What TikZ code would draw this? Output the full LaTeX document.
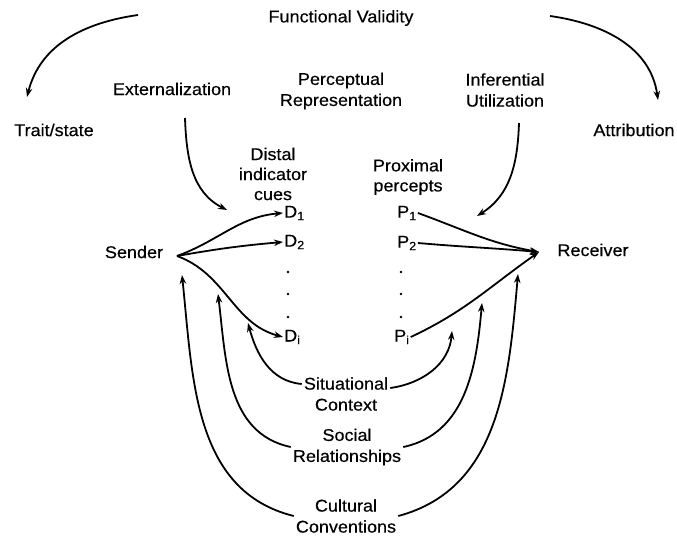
\documentclass[tikz,border=0pt]{standalone}
\usepackage{fontspec}
\setmainfont{Liberation Sans}[FakeStretch=1.06,FakeBold=0.4]
\usetikzlibrary{arrows.meta,calc}

\tikzset{
  lbl/.style={font=\fontsize{17}{21}\selectfont, align=center, inner sep=2pt},
  cue/.style={font=\fontsize{17}{20}\selectfont, inner sep=1pt},
  link/.style={line width=1.8pt, -{Stealth[length=9pt,width=6.5pt]}},
}

\begin{document}
\begin{tikzpicture}[x=1pt,y=1pt]
    \path[use as bounding box](0,0)rectangle(677,-540);
    % labels
    \node[lbl](fv)at(341,-18){Functional Validity};
    \node[lbl](trait)at(54,-130){Trait/state};
    \node[lbl](attr)at(634,-130){Attribution};
    \node[lbl](ext)at(172,-89){Externalization};
    \node[lbl](percep)at(341,-91){Perceptual\\Representation};
    \node[lbl](infer)at(505,-90){Inferential\\Utilization};
    \node[lbl, font=\fontsize{17}{20}\selectfont](distal)at(273,-174){Distal\\indicator\\cues};
    \node[lbl, font=\fontsize{17}{20}\selectfont](prox)at(408,-177){Proximal\\percepts};
    \node[lbl](sender)at(134,-252){Sender};
    \node[lbl](receiver)at(593,-250){Receiver};
    \node[lbl](situ)at(346,-394){Situational\\Context};
    \node[lbl](social)at(347,-447){Social\\Relationships};
    \node[lbl](cult)at(346,-516){Cultural\\Conventions};
    % cues and percepts
    \node[cue, anchor=west](D1)at(283,-213){D\textsubscript{1}};
    \node[cue, anchor=west](D2)at(283,-242){D\textsubscript{2}};
    \node[cue, anchor=west](Di)at(283,-337){D\textsubscript{i}};
    \node[cue, anchor=west](P1)at(396,-213){P\textsubscript{1}};
    \node[cue, anchor=west](P2)at(396,-243){P\textsubscript{2}};
    \node[cue, anchor=west](Pi)at(393,-337){P\textsubscript{i}};
    \foreach \y in {272,294,317}{
        \fill(288,-\y)circle(1.3);
        \fill(401,-\y)circle(1.3);
    }
    % end points
    \coordinate(sp)at(177,-256);
    \coordinate(rp)at(539,-252);
    \coordinate(tl)at(138,-15);
    \coordinate(tlend)at(27,-97);
    \coordinate(tr)at(550,-16);
    \coordinate(trend)at(658,-100);
    \coordinate(exts)at(185,-118);
    \coordinate(exte)at(227,-210);
    \coordinate(infs)at(519,-123);
    \coordinate(infe)at(477,-216);
    \coordinate(iL)at(248,-323);
    \coordinate(mL)at(218,-294);
    \coordinate(oL)at(182,-275);
    \coordinate(iR)at(452,-331);
    \coordinate(mR)at(482,-303);
    \coordinate(oR)at(518,-274);

    % functional validity
    \path[draw, link](tl)to[out=188, in=76](tlend);
    \path[draw, link](tr)to[out=-8, in=98](trend);
    \path[draw, link](exts)to[out=-88, in=153](exte);
    \path[draw, link](infs)to[out=-92, in=32](infe);
    % sender to cues
    \path[draw, link](sp)to[out=20, in=185](D1.west);
    \path[draw, link](sp)to[out=10, in=185](D2.west);
    \path[draw, link](sp)to[out=-20, in=165](Di.west);
    % percepts to receiver
    \path[draw, link](P1.east)to[out=-20, in=170](rp);
    \path[draw, link](P2.east)to[out=-5, in=175](rp);
    \path[draw, link](Pi.east)to[out=25, in=-145](rp);
    % context
    \path[draw, link]([yshift=10pt]situ.west)to[out=175, in=-75](iL);
    \path[draw, link]([yshift=6pt]situ.east)to[out=8, in=-95](iR);
    \path[draw, link](social.west)to[out=168, in=-83](mL);
    \path[draw, link](social.east)to[out=12, in=-95](mR);
    \path[draw, link](cult.west)to[out=166, in=-84](oL);
    \path[draw, link](cult.east)to[out=15, in=-95](oR);
\end{tikzpicture}
\end{document}
